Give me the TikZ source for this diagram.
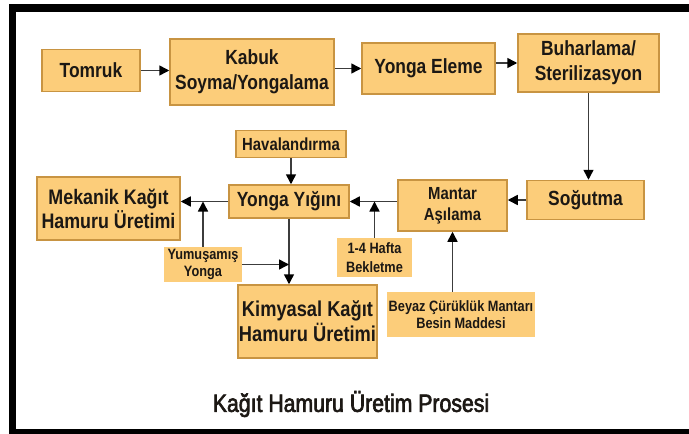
\documentclass[tikz,border=0pt]{standalone}
\usepackage{fontspec}
\setmainfont{Liberation Sans}[FakeStretch=0.85]
\newfontfamily\titlefont{Liberation Sans}[FakeStretch=0.85,FakeBold=2.5]
\usetikzlibrary{arrows.meta}
\definecolor{boxfill}{RGB}{252,205,122}
\definecolor{boxline}{RGB}{200,148,66}
\definecolor{arrowgray}{RGB}{60,60,60}
\definecolor{txt}{RGB}{28,24,20}
\begin{document}
\begin{tikzpicture}[x=1pt,y=-1pt,
	box/.style={draw=boxline,line width=1.5pt,fill=boxfill,text=txt,align=center,inner sep=0pt,font=\bfseries\fontsize{20.5}{25}\selectfont},
	note/.style={fill=boxfill,text=txt,align=center,inner sep=0pt,font=\bfseries\fontsize{15}{17.5}\selectfont},
	flow/.style={draw=arrowgray,line width=1.5pt,-{Triangle[length=10pt,width=10pt,color=black]}}]
			\useasboundingbox (0,0) rectangle (689,434);
			\fill (9,4) rectangle (689,12);
			\fill (9,4) rectangle (16,434);
			\fill (9,429) rectangle (689,434);
			\node (tomruk) [box,minimum width=98,minimum height=42] at (91,70.5) {Tomruk};
			\node (kabuk) [box,minimum width=164,minimum height=66] at (252,72) {Kabuk\\Soyma/Yongalama};
			\node (eleme) [box,minimum width=133,minimum height=51] at (428.5,68.5) {Yonga Eleme};
			\node (buhar) [box,minimum width=141,minimum height=58] at (588.5,63) {Buharlama/\\Sterilizasyon};
			\node (sogutma) [box,minimum width=117,minimum height=39] at (585.5,200) {Soğutma};
			\node (mantar) [box,minimum width=109,minimum height=51,font=\bfseries\fontsize{17.5}{21}\selectfont] at (452.5,205.5) {Mantar\\Aşılama};
			\node (yigin) [box,minimum width=120,minimum height=33] at (289,201.5) {Yonga Yığını};
			\node (hava) [box,minimum width=110,minimum height=27,font=\bfseries\fontsize{17.5}{20}\selectfont] at (291,144) {Havalandırma};
			\node (mekanik) [box,minimum width=143,minimum height=63,font=\bfseries\fontsize{21}{24}\selectfont] at (108.5,208.5) {Mekanik Kağıt\\Hamuru Üretimi};
			\node (kimya) [box,minimum width=139,minimum height=73,font=\bfseries\fontsize{21.5}{25}\selectfont] at (307.5,321.5) {Kimyasal Kağıt\\Hamuru Üretimi};
			\node (yumus) [note,minimum width=78,minimum height=35] at (203,264.5) {Yumuşamış\\Yonga};
			\node (bekle) [note,minimum width=75,minimum height=39,font=\bfseries\fontsize{15}{18.5}\selectfont] at (374.5,257.5) {1-4 Hafta\\Bekletme};
			\node (beyaz) [note,minimum width=148,minimum height=45,font=\bfseries\fontsize{15}{17}\selectfont] at (461,314.5) {Beyaz Çürüklük Mantarı\\Besin Maddesi};
			\node (title) [text=txt,font=\titlefont\fontsize{25}{30}\selectfont] at (351,404) {Kağıt Hamuru Üretim Prosesi};
			\draw [flow] (tomruk) -- (tomruk -| kabuk.west);
			\draw [flow] (kabuk.east |- eleme) -- (eleme.west);
			\draw [flow] (eleme.east |- buhar) -- (buhar.west);
			\draw [flow] (buhar) -- (buhar |- sogutma.north);
			\draw [flow] (sogutma) -- (sogutma -| mantar.east);
			\draw [flow] (mantar.west |- yigin) -- (yigin.east);
			\draw [flow] (hava) -- (hava |- yigin.north);
			\draw [flow] (yigin) -- (yigin -| mekanik.east);
			\draw [flow] (yigin) -- (yigin |- kimya.north);
			\draw [flow] (yumus) -- (yumus |- yigin);
			\draw [flow] (yumus) -- (yumus -| yigin);
			\draw [flow] (bekle) -- (bekle |- yigin);
			\draw [flow] (beyaz.north -| mantar) -- (mantar.south);
		\end{tikzpicture}
\end{document}
